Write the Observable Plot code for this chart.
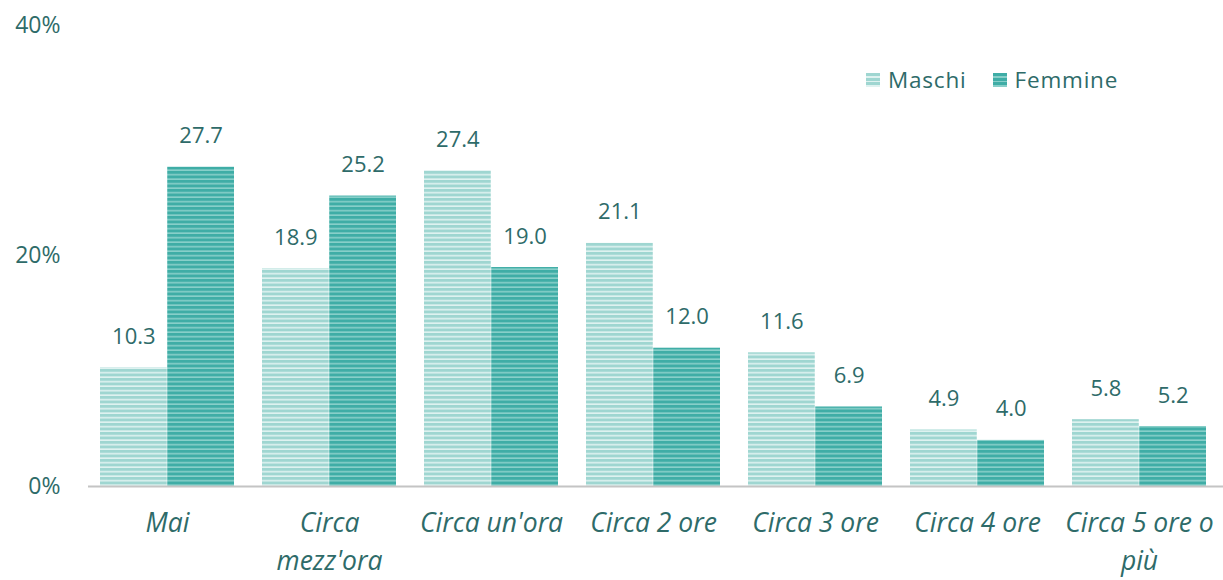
<!DOCTYPE html>
<html>
<head>
<meta charset="utf-8">
<script src="https://cdn.jsdelivr.net/npm/d3@7"></script>
<script src="https://cdn.jsdelivr.net/npm/@observablehq/plot@0.6"></script>
<style>
  body { margin: 0; background: #fff; }
  #wrap { position: relative; width: 1223px; height: 580px; font-family: "Open Sans", sans-serif; }
  #legend { position: absolute; top: 64px; left: 866px; display: flex; align-items: center; font-size: 22.5px; color: #2e6b69; letter-spacing: 0.8px; }
  .sw { width: 14px; height: 14px; display: inline-block; margin-right: 8px; }
  .item { display: flex; align-items: center; margin-right: 26px; }
</style>
</head>
<body>
<div id="wrap">
  <div id="chart"></div>
  <div id="legend"></div>
</div>
<script>
const categories = ["Mai", "Circa mezz'ora", "Circa un'ora", "Circa 2 ore", "Circa 3 ore", "Circa 4 ore", "Circa 5 ore o più"];
const tickLabels = ["Mai", "Circa\nmezz'ora", "Circa un'ora", "Circa 2 ore", "Circa 3 ore", "Circa 4 ore", "Circa 5 ore o\npiù"];
const maschi = [10.3, 18.9, 27.4, 21.1, 11.6, 4.9, 5.8];
const femmine = [27.7, 25.2, 19.0, 12.0, 6.9, 4.0, 5.2];
const seriesNames = ["Maschi", "Femmine"];
const yTicks = [0, 20, 40];

const W = 1223, H = 580;
const mL = 88, mR = 0, mT = 25, mB = 94;
const pInner = 0.17, pOuter = 0.088, align = 0.42;
const n = categories.length;
const step = (W - mL - mR) / (n - pInner + 2 * pOuter);
const bw = step * (1 - pInner);
const half = bw / 2;

const textColor = "#2e6b69";

const dataM = categories.map((c, i) => ({cat: c, v: maschi[i]}));
const dataF = categories.map((c, i) => ({cat: c, v: femmine[i]}));

const plot = Plot.plot({
  width: W, height: H,
  marginLeft: mL, marginRight: mR, marginTop: mT, marginBottom: mB,
  style: {fontFamily: "Open Sans, sans-serif", color: textColor, background: "#fff"},
  x: {domain: categories, paddingInner: pInner, paddingOuter: pOuter, align: align, axis: null},
  y: {domain: [0, 40], axis: null},
  marks: [
    Plot.barY(dataM, {x: "cat", y: "v", fill: "url(#patM)", insetRight: half}),
    Plot.barY(dataF, {x: "cat", y: "v", fill: "url(#patF)", insetLeft: half}),
    Plot.ruleY([0], {stroke: "#c4c4c4", strokeWidth: 2}),
    Plot.text(dataM, {x: "cat", y: "v", text: d => d.v.toFixed(1), dx: -half / 2, dy: -31, lineAnchor: "middle", fill: textColor, fontSize: 22, letterSpacing: "1px"}),
    Plot.text(dataF, {x: "cat", y: "v", text: d => d.v.toFixed(1), dx: half / 2, dy: -31, lineAnchor: "middle", fill: textColor, fontSize: 22, letterSpacing: "1px"}),
    Plot.axisY({ticks: yTicks, tickFormat: d => d + "%", tickSize: 0, tickPadding: 28, fontSize: 23, fill: textColor, letterSpacing: "1px", lineAnchor: "middle", label: null}),
    Plot.axisX({tickFormat: d => tickLabels[categories.indexOf(d)], tickSize: 0, tickPadding: 19, fontSize: 26.5, fontStyle: "italic", fill: textColor, lineHeight: 1.43, letterSpacing: "0.8px", label: null})
  ]
});

const svg = d3.select(plot);
const defs = svg.insert("defs", ":first-child");
function pattern(id, base, light, period, lightH) {
  const p = defs.append("pattern").attr("id", id).attr("patternUnits", "userSpaceOnUse")
    .attr("width", 8).attr("height", period);
  p.append("rect").attr("width", 8).attr("height", period).attr("fill", base);
  p.append("rect").attr("y", period - lightH).attr("width", 8).attr("height", lightH).attr("fill", light);
}
pattern("patM", "#9fd6d1", "#dff2f0", 4.5, 1.6);
pattern("patF", "#3fada6", "#88cfc9", 4.5, 1.6);

document.getElementById("chart").appendChild(plot);

const legend = document.getElementById("legend");
const swatches = [
  "repeating-linear-gradient(#9fd6d1 0 3px, #dff2f0 3px 4.5px)",
  "repeating-linear-gradient(#3fada6 0 3px, #88cfc9 3px 4.5px)"
];
seriesNames.forEach((s, i) => {
  const it = document.createElement("span");
  it.className = "item";
  const sw = document.createElement("span");
  sw.className = "sw";
  sw.style.background = swatches[i];
  it.appendChild(sw);
  it.appendChild(document.createTextNode(s));
  legend.appendChild(it);
});
</script>
</body>
</html>
